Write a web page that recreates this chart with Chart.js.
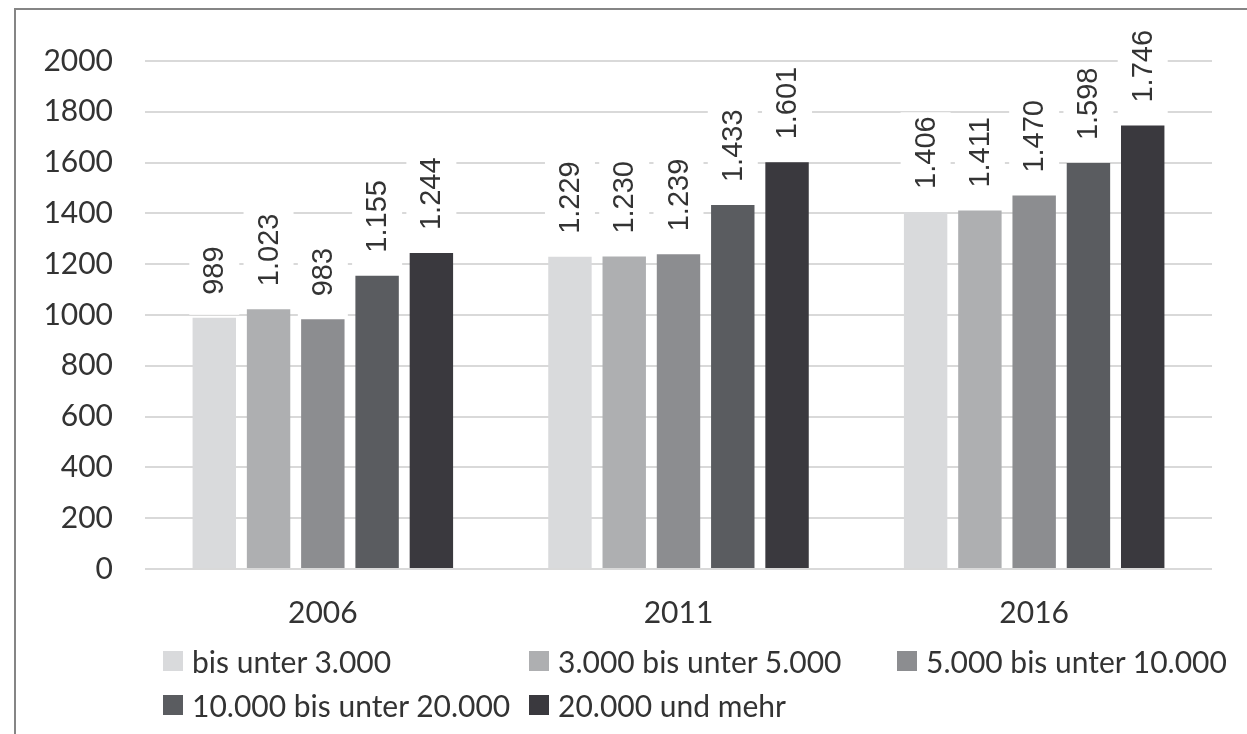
<!DOCTYPE html>
<html>
<head>
<meta charset="utf-8">
<script src="https://cdn.jsdelivr.net/npm/chart.js@4.4.1/dist/chart.umd.min.js"></script>
<style>
  html, body { margin: 0; padding: 0; background: #fff; width: 1247px; height: 734px; overflow: hidden; }
  #frame { position: absolute; left: 14px; top: 8px; width: 1400px; height: 900px;
           border-left: 2px solid #858585; border-top: 2px solid #858585; }
  #chart { position: absolute; left: 0; top: 0; }
  #legend { position: absolute; left: 0; top: 0; width: 1247px; height: 734px; pointer-events: none; }
  .item { position: absolute; display: flex; align-items: center; white-space: nowrap;
          font-family: Lato, "Open Sans", sans-serif; font-size: 30px; color: #333; transform: translateY(-50%); }
  .box { width: 20px; height: 20px; margin-right: 9px; flex: none; }
</style>
</head>
<body>
<div id="frame"></div>
<canvas id="chart" width="1247" height="734"></canvas>
<div id="legend"></div>
<script>
// Jahre (Kategorien)
const years = ['2006', '2011', '2016'];

// Größenklassen (Reihen)
const seriesNames = [
  'bis unter 3.000',
  '3.000 bis unter 5.000',
  '5.000 bis unter 10.000',
  '10.000 bis unter 20.000',
  '20.000 und mehr'
];

// Werte je Größenklasse für 2006, 2011, 2016
const bisUnter3000 = [989, 1229, 1406];
const von3000bis5000 = [1023, 1230, 1411];
const von5000bis10000 = [983, 1239, 1470];
const von10000bis20000 = [1155, 1433, 1598];
const ab20000 = [1244, 1601, 1746];

const seriesValues = [bisUnter3000, von3000bis5000, von5000bis10000, von10000bis20000, ab20000];
const seriesColors = ['#d9dadc', '#aeafb1', '#8c8d90', '#5a5c60', '#3a393e'];

// Y-Achse
const yMin = 0, yMax = 2000, yStep = 200;

// Zahl mit deutschem Tausenderpunkt
function fmt(v) {
  return String(v).replace(/\B(?=(\d{3})+(?!\d))/g, '.');
}

// Gedrehte Wertbeschriftungen über den Säulen, mit weißem Hintergrund
const valueLabels = {
  id: 'valueLabels',
  afterDatasetsDraw(chart) {
    const ctx = chart.ctx;
    ctx.save();
    ctx.font = '29px "Liberation Sans", Arial, sans-serif';
    chart.data.datasets.forEach((ds, i) => {
      const meta = chart.getDatasetMeta(i);
      meta.data.forEach((bar, j) => {
        const text = fmt(ds.data[j]);
        const w = ctx.measureText(text).width;
        const gap = 23;
        ctx.save();
        ctx.translate(bar.x, bar.y);
        ctx.rotate(-Math.PI / 2);
        // Hintergrund (gedrehte Koordinaten: x nach oben, y nach rechts)
        ctx.fillStyle = '#ffffff';
        ctx.fillRect(3, -25, gap + w + 4 - 3, 50);
        ctx.fillStyle = '#333333';
        ctx.textAlign = 'left';
        ctx.textBaseline = 'middle';
        ctx.fillText(text, gap, 1);
        ctx.restore();
      });
    });
    ctx.restore();
  }
};

const chart = new Chart(document.getElementById('chart'), {
  type: 'bar',
  data: {
    labels: years,
    datasets: seriesNames.map((name, i) => ({
      label: name,
      data: seriesValues[i],
      backgroundColor: seriesColors[i],
      borderWidth: 0,
      categoryPercentage: 0.763,
      barPercentage: 0.8
    }))
  },
  options: {
    responsive: false,
    animation: false,
    layout: { padding: { left: 0, right: 35, top: 61, bottom: 0 } },
    plugins: {
      legend: { display: false },
      tooltip: { enabled: false }
    },
    scales: {
      x: {
        grid: { display: false, drawTicks: false },
        border: { display: false },
        ticks: {
          color: '#333',
          font: { family: 'Lato', size: 30 },
          padding: 26
        },
        afterFit(scale) { scale.height = 165; }
      },
      y: {
        min: yMin,
        max: yMax,
        grid: { color: '#d9d9d9', lineWidth: 2, drawTicks: false },
        border: { display: false },
        ticks: {
          stepSize: yStep,
          color: '#333',
          font: { family: 'Lato', size: 30 },
          padding: 32,
          callback: (v) => String(v)
        },
        afterFit(scale) { scale.width = 145; }
      }
    }
  },
  plugins: [valueLabels]
});

// Legende in Spalten angeordnet
const legendEl = document.getElementById('legend');
const colLeft = [163, 529, 897];
const rowY = [661, 705];
chart.data.datasets.forEach((ds, i) => {
  const item = document.createElement('div');
  item.className = 'item';
  item.style.left = colLeft[i % 3] + 'px';
  item.style.top = rowY[Math.floor(i / 3)] + 'px';
  const box = document.createElement('span');
  box.className = 'box';
  box.style.background = ds.backgroundColor;
  const label = document.createElement('span');
  label.textContent = ds.label;
  item.appendChild(box);
  item.appendChild(label);
  legendEl.appendChild(item);
});
</script>
</body>
</html>
